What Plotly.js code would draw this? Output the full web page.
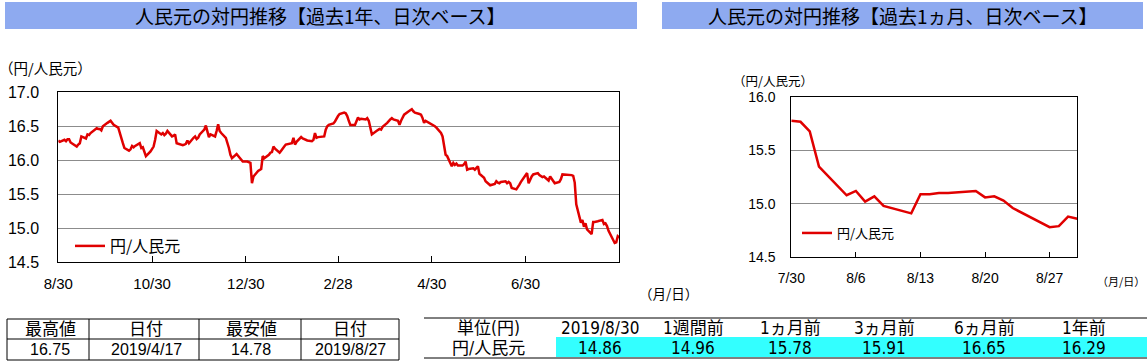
<!DOCTYPE html>
<html><head><meta charset="utf-8">
<script src="https://cdn.plot.ly/plotly-3.0.1.min.js"></script>
<style>html,body{margin:0;padding:0;background:#fff;overflow:hidden}#chart{width:1147px;height:361px}</style>
</head><body><div id="chart"></div>
<script>
// ---------- data ----------
const yearDates = ['2018-08-30','2018-08-31','2018-09-03','2018-09-04','2018-09-05','2018-09-06','2018-09-07','2018-09-10','2018-09-11','2018-09-12','2018-09-13','2018-09-14','2018-09-17','2018-09-18','2018-09-19','2018-09-20','2018-09-21','2018-09-24','2018-09-25','2018-09-26','2018-09-27','2018-09-28','2018-10-01','2018-10-02','2018-10-03','2018-10-04','2018-10-05','2018-10-08','2018-10-09','2018-10-10','2018-10-11','2018-10-12','2018-10-15','2018-10-16','2018-10-17','2018-10-18','2018-10-19','2018-10-22','2018-10-23','2018-10-24','2018-10-25','2018-10-26','2018-10-29','2018-10-30','2018-10-31','2018-11-01','2018-11-02','2018-11-05','2018-11-06','2018-11-07','2018-11-08','2018-11-09','2018-11-12','2018-11-13','2018-11-14','2018-11-15','2018-11-16','2018-11-19','2018-11-20','2018-11-21','2018-11-22','2018-11-23','2018-11-26','2018-11-27','2018-11-28','2018-11-29','2018-11-30','2018-12-03','2018-12-04','2018-12-05','2018-12-06','2018-12-07','2018-12-10','2018-12-11','2018-12-12','2018-12-13','2018-12-14','2018-12-17','2018-12-18','2018-12-19','2018-12-20','2018-12-21','2018-12-24','2018-12-25','2018-12-26','2018-12-27','2018-12-28','2018-12-31','2019-01-02','2019-01-03','2019-01-04','2019-01-07','2019-01-08','2019-01-09','2019-01-10','2019-01-11','2019-01-14','2019-01-15','2019-01-16','2019-01-17','2019-01-18','2019-01-21','2019-01-22','2019-01-23','2019-01-24','2019-01-25','2019-01-28','2019-01-29','2019-01-30','2019-01-31','2019-02-01','2019-02-04','2019-02-05','2019-02-06','2019-02-07','2019-02-08','2019-02-11','2019-02-12','2019-02-13','2019-02-14','2019-02-15','2019-02-18','2019-02-19','2019-02-20','2019-02-21','2019-02-22','2019-02-25','2019-02-26','2019-02-27','2019-02-28','2019-03-01','2019-03-04','2019-03-05','2019-03-06','2019-03-07','2019-03-08','2019-03-11','2019-03-12','2019-03-13','2019-03-14','2019-03-15','2019-03-18','2019-03-19','2019-03-20','2019-03-21','2019-03-22','2019-03-25','2019-03-26','2019-03-27','2019-03-28','2019-03-29','2019-04-01','2019-04-02','2019-04-03','2019-04-04','2019-04-05','2019-04-08','2019-04-09','2019-04-10','2019-04-11','2019-04-12','2019-04-15','2019-04-16','2019-04-17','2019-04-18','2019-04-19','2019-04-22','2019-04-23','2019-04-24','2019-04-25','2019-04-26','2019-05-01','2019-05-02','2019-05-03','2019-05-06','2019-05-07','2019-05-08','2019-05-09','2019-05-10','2019-05-13','2019-05-14','2019-05-15','2019-05-16','2019-05-17','2019-05-20','2019-05-21','2019-05-22','2019-05-23','2019-05-24','2019-05-27','2019-05-28','2019-05-29','2019-05-30','2019-05-31','2019-06-03','2019-06-04','2019-06-05','2019-06-06','2019-06-07','2019-06-10','2019-06-11','2019-06-12','2019-06-13','2019-06-14','2019-06-17','2019-06-18','2019-06-19','2019-06-20','2019-06-21','2019-06-24','2019-06-25','2019-06-26','2019-06-27','2019-06-28','2019-07-01','2019-07-02','2019-07-03','2019-07-04','2019-07-05','2019-07-08','2019-07-09','2019-07-10','2019-07-11','2019-07-12','2019-07-15','2019-07-16','2019-07-17','2019-07-18','2019-07-19','2019-07-22','2019-07-23','2019-07-24','2019-07-25','2019-07-26','2019-07-29','2019-07-30','2019-07-31','2019-08-01','2019-08-02','2019-08-05','2019-08-06','2019-08-07','2019-08-08','2019-08-09','2019-08-12','2019-08-13','2019-08-14','2019-08-15','2019-08-16','2019-08-19','2019-08-20','2019-08-21','2019-08-22','2019-08-23','2019-08-26','2019-08-27','2019-08-28','2019-08-29','2019-08-30'];
const yearValues = [16.29,16.27,16.30,16.28,16.31,16.31,16.26,16.22,16.20,16.23,16.25,16.35,16.32,16.38,16.37,16.40,16.42,16.47,16.46,16.46,16.44,16.50,16.55,16.56,16.58,16.55,16.52,16.48,16.39,16.33,16.25,16.18,16.14,16.16,16.21,16.19,16.21,16.25,16.18,16.19,16.12,16.06,16.13,16.16,16.20,16.30,16.43,16.38,16.40,16.37,16.39,16.43,16.35,16.36,16.38,16.25,16.24,16.22,16.23,16.24,16.29,16.25,16.33,16.35,16.31,16.33,16.38,16.45,16.51,16.44,16.34,16.38,16.35,16.43,16.53,16.43,16.40,16.33,16.26,16.18,16.08,16.03,16.09,16.06,16.03,16.00,15.98,15.98,15.96,15.66,15.76,15.84,15.86,15.87,16.06,16.03,16.08,16.11,16.12,16.20,16.17,16.11,16.14,16.18,16.20,16.23,16.24,16.25,16.33,16.23,16.27,16.34,16.32,16.31,16.30,16.29,16.28,16.30,16.40,16.33,16.34,16.35,16.35,16.45,16.50,16.52,16.54,16.57,16.62,16.65,16.68,16.70,16.69,16.65,16.58,16.52,16.52,16.58,16.63,16.60,16.61,16.60,16.62,16.58,16.50,16.38,16.43,16.44,16.46,16.45,16.49,16.55,16.58,16.60,16.62,16.60,16.58,16.52,16.58,16.63,16.67,16.72,16.73,16.75,16.72,16.70,16.68,16.67,16.62,16.55,16.58,16.52,16.50,16.48,16.40,16.35,16.22,16.08,16.06,15.91,15.96,15.93,15.95,15.92,15.92,15.94,15.98,15.86,15.87,15.88,15.86,15.88,15.91,15.80,15.74,15.69,15.67,15.65,15.63,15.65,15.69,15.67,15.66,15.68,15.69,15.66,15.68,15.66,15.59,15.57,15.60,15.64,15.68,15.71,15.81,15.66,15.72,15.76,15.79,15.81,15.78,15.76,15.75,15.76,15.70,15.76,15.72,15.69,15.66,15.68,15.72,15.79,15.79,15.79,15.79,15.78,15.77,15.67,15.35,15.08,15.12,15.02,15.07,14.98,14.91,15.09,15.09,15.10,15.10,15.12,15.06,15.07,15.03,14.96,14.82,14.78,14.79,14.88,14.86];

const monthDates = ['2019-07-30','2019-07-31','2019-08-01','2019-08-02','2019-08-05','2019-08-06','2019-08-07','2019-08-08','2019-08-09','2019-08-12','2019-08-13','2019-08-14','2019-08-15','2019-08-16','2019-08-19','2019-08-20','2019-08-21','2019-08-22','2019-08-23','2019-08-26','2019-08-27','2019-08-28','2019-08-29','2019-08-30'];
const monthValues = [15.78,15.77,15.68,15.35,15.08,15.12,15.02,15.07,14.98,14.91,15.09,15.09,15.10,15.10,15.12,15.06,15.07,15.03,14.96,14.83,14.78,14.79,14.88,14.86];

const yearTickDates = ['2018-08-30','2018-10-30','2018-12-30','2019-02-28','2019-04-30','2019-06-30'];
const yearTickLabels = ['8/30','10/30','12/30','2/28','4/30','6/30'];
const monthTickDates = ['2019-07-30','2019-08-06','2019-08-13','2019-08-20','2019-08-27'];
const monthTickLabels = ['7/30','8/6','8/13','8/20','8/27'];

const seriesName = '円/人民元';
const titleYear = '人民元の対円推移【過去1年、日次ベース】';
const titleMonth = '人民元の対円推移【過去1ヵ月、日次ベース】';
const yUnitLabel = '（円/人民元）';
const xUnitLabel = '（月/日）';

const rangeHeaders = ['最高値','日付','最安値','日付'];
const rangeValues = ['16.75','2019/4/17','14.78','2019/8/27'];
const summaryHeaders = ['単位(円)','2019/8/30','1週間前','1ヵ月前','3ヵ月前','6ヵ月前','1年前'];
const summaryRowLabel = '円/人民元';
const summaryValues = ['14.86','14.96','15.78','15.91','16.65','16.29'];

// ---------- layout helpers ----------
const W = 1147, H = 361;
const px = x => x / W;
const py = y => 1 - y / H;
const FONT = 'Liberation Sans, Arial, Noto Sans CJK JP, sans-serif';
const JFONT = 'Noto Sans CJK JP, sans-serif';
const NARROW = 'Liberation Sans Narrow, DejaVu Sans Condensed, Arial Narrow, Noto Sans CJK JP, sans-serif';
const RED = '#e00000';
const BLUE = '#8eaaf0';
const CYAN = '#33ffff';

const shapes = [];
const annotations = [];
function rect(x0, y0, x1, y1, fill, line) {
  shapes.push({type:'rect', xref:'paper', yref:'paper', x0:px(x0), x1:px(x1), y0:py(y1), y1:py(y0),
    fillcolor: fill || 'rgba(0,0,0,0)', line: line ? {color:'#000', width:1} : {width:0}, layer:'below'});
}
function hline(x0, x1, y) {
  shapes.push({type:'line', xref:'paper', yref:'paper', x0:px(x0), x1:px(x1), y0:py(y), y1:py(y), line:{color:'#000', width:1}});
}
function vline(x, y0, y1) {
  shapes.push({type:'line', xref:'paper', yref:'paper', x0:px(x), x1:px(x), y0:py(y0), y1:py(y1), line:{color:'#000', width:1}});
}
function text(t, x, y, size, family, anchor) {
  annotations.push({text:t, xref:'paper', yref:'paper', x:px(x), y:py(y), showarrow:false, borderpad:0,
    xanchor: anchor || 'center', yanchor:'middle', font:{size:size, family:family || FONT, color:'#000'}});
}

// title bars
rect(5, 2, 637, 29, BLUE, false);
rect(662, 2, 1143, 29, BLUE, false);
text(titleYear, 320, 15.5, 19, JFONT);
text(titleMonth, 903, 15.5, 19, JFONT);

// unit labels
text(yUnitLabel, -2, 68, 14.5, JFONT, 'left');
text(xUnitLabel, 638, 293, 13.5, JFONT, 'left');
text(yUnitLabel, 732, 80, 12.5, JFONT, 'left');
text(xUnitLabel, 1146, 281, 11, JFONT, 'right');

// left table
rect(7, 319, 399, 360, null, true);
hline(7, 399, 339);
[89, 199, 301].forEach(x => vline(x, 319, 360));
const rangeCenters = [50, 146, 251, 350];
rangeHeaders.forEach((t, i) => text(t, rangeCenters[i], 329, 17, FONT));
rangeValues.forEach((t, i) => text(t, rangeCenters[i], 349.5, 16, FONT));

// right table
rect(556, 337, 1147, 357, CYAN, false);
hline(424, 1147, 318);
hline(424, 1147, 358);
const summaryCenters = [488, 600, 693, 790, 884, 984, 1084];
summaryHeaders.forEach((t, i) => text(t, summaryCenters[i], 328, 17, NARROW));
text(summaryRowLabel, summaryCenters[0], 347.5, 17, NARROW);
summaryValues.forEach((t, i) => text(t, summaryCenters[i + 1], 347.5, 17, NARROW));

const axisCommon = {showline:true, mirror:true, linecolor:'#000', linewidth:1, zeroline:false, fixedrange:true};

const traces = [
  {x: yearDates, y: yearValues, type:'scatter', mode:'lines', name: seriesName,
   line:{color:RED, width:2.5}, xaxis:'x', yaxis:'y', legend:'legend'},
  {x: monthDates, y: monthValues, type:'scatter', mode:'lines', name: seriesName,
   line:{color:RED, width:2.5}, xaxis:'x2', yaxis:'y2', legend:'legend2'}
];

const layout = {
  width: W, height: H, autosize:false,
  margin:{l:0, r:0, t:0, b:0, pad:0},
  paper_bgcolor:'#fff', plot_bgcolor:'#fff',
  font:{family: FONT, color:'#000'},
  showlegend:true,
  xaxis: Object.assign({}, axisCommon, {
    domain:[px(58.3), px(619.3)], anchor:'y', type:'date',
    range:['2018-08-30','2019-08-30'], tickmode:'array', tickvals: yearTickDates, ticktext: yearTickLabels,
    ticks:'inside', ticklen:6, tickcolor:'#000', tickwidth:1, showgrid:false,
    tickfont:{size:15, family:FONT}, ticklabelstandoff:8
  }),
  yaxis: Object.assign({}, axisCommon, {
    domain:[py(262), py(92.3)], anchor:'x', range:[14.5, 17.0], tick0:14.5, dtick:0.5, tickformat:'.1f',
    ticks:'', showgrid:true, gridcolor:'#8c8c8c', gridwidth:1,
    tickfont:{size:16, family:FONT}, ticklabelstandoff:15
  }),
  xaxis2: Object.assign({}, axisCommon, {
    domain:[px(791.3), px(1077.3)], anchor:'y2', type:'date',
    range:['2019-07-30','2019-08-30'], tickmode:'array', tickvals: monthTickDates, ticktext: monthTickLabels,
    ticks:'inside', ticklen:5, tickcolor:'#000', tickwidth:1, showgrid:false,
    tickfont:{size:14, family:FONT}, ticklabelstandoff:8
  }),
  yaxis2: Object.assign({}, axisCommon, {
    domain:[py(257), py(97.3)], anchor:'x2', range:[14.5, 16.0], tick0:14.5, dtick:0.5, tickformat:'.1f',
    ticks:'', showgrid:true, gridcolor:'#8c8c8c', gridwidth:1,
    tickfont:{size:14, family:FONT}, ticklabelstandoff:12
  }),
  legend:{x:px(70), y:py(229), xanchor:'left', yanchor:'top', bgcolor:'rgba(0,0,0,0)', borderwidth:0,
    font:{size:16, family:JFONT, color:'#000'}},
  legend2:{x:px(797), y:py(218), xanchor:'left', yanchor:'top', bgcolor:'rgba(0,0,0,0)', borderwidth:0,
    font:{size:13, family:JFONT, color:'#000'}},
  shapes: shapes,
  annotations: annotations
};

Plotly.newPlot('chart', traces, layout, {staticPlot:true, displayModeBar:false});
</script>
</body></html>
